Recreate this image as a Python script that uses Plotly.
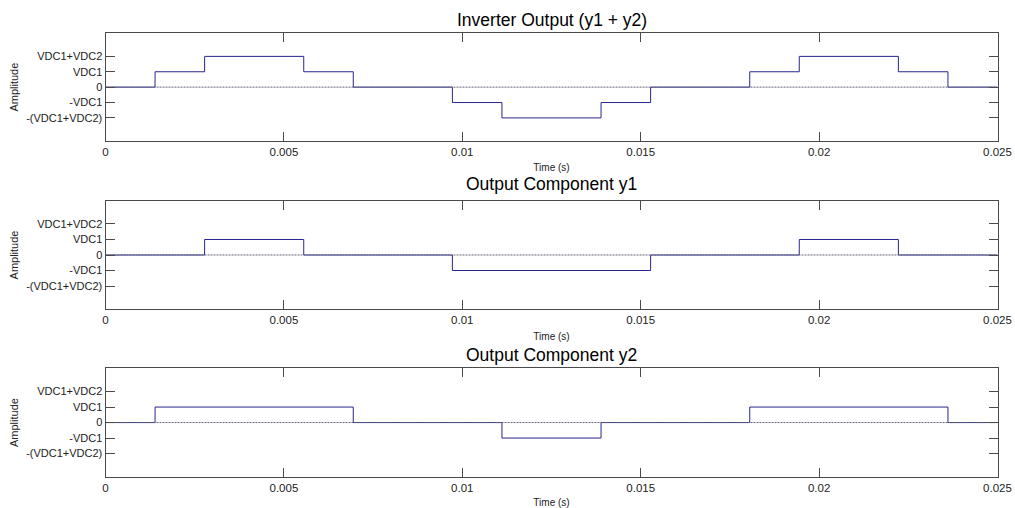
import plotly.graph_objects as go

# Switching instants (s) and output levels for each stepped waveform
t_y1 = [0, 0.002778, 0.005556, 0.009722, 0.015278, 0.019444, 0.022222, 0.025]
lvl_y1 = [0, 1, 0, -1, 0, 1, 0, 0]

t_y2 = [0, 0.001389, 0.006944, 0.011111, 0.013889, 0.018056, 0.023611, 0.025]
lvl_y2 = [0, 1, 0, -1, 0, 1, 0, 0]

t_sum = [0, 0.001389, 0.002778, 0.005556, 0.006944, 0.009722, 0.011111,
         0.013889, 0.015278, 0.018056, 0.019444, 0.022222, 0.023611, 0.025]
lvl_sum = [0, 1, 2, 1, 0, -1, -2, -1, 0, 1, 2, 1, 0, 0]

titles = ["Inverter Output (y1 + y2)", "Output Component y1", "Output Component y2"]

x_ticks = [0, 0.005, 0.01, 0.015, 0.02, 0.025]
x_tick_text = ["0", "0.005", "0.01", "0.015", "0.02", "0.025"]
y_ticks = [-2, -1, 0, 1, 2]
y_tick_text = ["-(VDC1+VDC2)", "-VDC1", "0", "VDC1", "VDC1+VDC2"]

W, H = 1015, 508
FONT = "Arial, Liberation Sans, sans-serif"
LINE_BLUE = "#26268f"
ZERO_GREY = "rgb(100,100,120)"
AXIS_GREY = "#4a4a4a"

# plot boxes in pixels: (top, bottom)
boxes = [(33.3, 141.0), (200.7, 309.3), (368.3, 476.8)]
x_left, x_right = 105.5, 997.5
title_centers = [19.5, 183.5, 354.5]

series = [(t_sum, lvl_sum), (t_y1, lvl_y1), (t_y2, lvl_y2)]

fig = go.Figure()
layout = dict(
    width=W, height=H,
    margin=dict(l=0, r=0, t=0, b=0, autoexpand=False),
    paper_bgcolor="white", plot_bgcolor="white",
    showlegend=False,
    font=dict(family=FONT, color="black"),
    annotations=[],
)

xdom = [x_left / W, x_right / W]
for i, ((t, lvl), (top, bot)) in enumerate(zip(series, boxes)):
    n = "" if i == 0 else str(i + 1)
    xa, ya = "x" + n, "y" + n
    fig.add_trace(go.Scatter(x=t, y=lvl, mode="lines", line_shape="hv",
                             line=dict(color=LINE_BLUE, width=1),
                             xaxis=xa, yaxis=ya, hoverinfo="skip"))
    fig.add_trace(go.Scatter(x=[0, 0.025], y=[0, 0], mode="lines",
                             line=dict(color=ZERO_GREY, width=1, dash="2px,1px"),
                             xaxis=xa, yaxis=ya, hoverinfo="skip"))
    common = dict(showline=True, mirror="allticks", linecolor=AXIS_GREY, linewidth=1,
                  ticks="inside", ticklen=9, tickcolor=AXIS_GREY, tickwidth=1,
                  showgrid=False, zeroline=False, automargin=False)
    layout["xaxis" + n] = dict(
        domain=xdom, anchor=ya, range=[0, 0.025],
        tickvals=x_ticks, ticktext=x_tick_text,
        tickfont=dict(size=11.5, family=FONT, color="#222"),
        title=dict(text="Time (s)", font=dict(size=10, family=FONT, color="#222"), standoff=7),
        **common)
    layout["yaxis" + n] = dict(
        domain=[1 - bot / H, 1 - top / H], anchor=xa, range=[-3.5, 3.5],
        tickvals=y_ticks, ticktext=y_tick_text,
        tickfont=dict(size=11, family=FONT, color="#222"),
        title=dict(text="Amplitude", font=dict(size=11, family=FONT, color="#222"), standoff=5),
        **common)
    layout["annotations"].append(dict(
        text=titles[i], xref="paper", yref="paper",
        x=(xdom[0] + xdom[1]) / 2, y=1 - title_centers[i] / H,
        xanchor="center", yanchor="middle", showarrow=False,
        font=dict(size=17.5, family=FONT, color="black")))

fig.update_layout(**layout)
fig.write_html("out.html")
